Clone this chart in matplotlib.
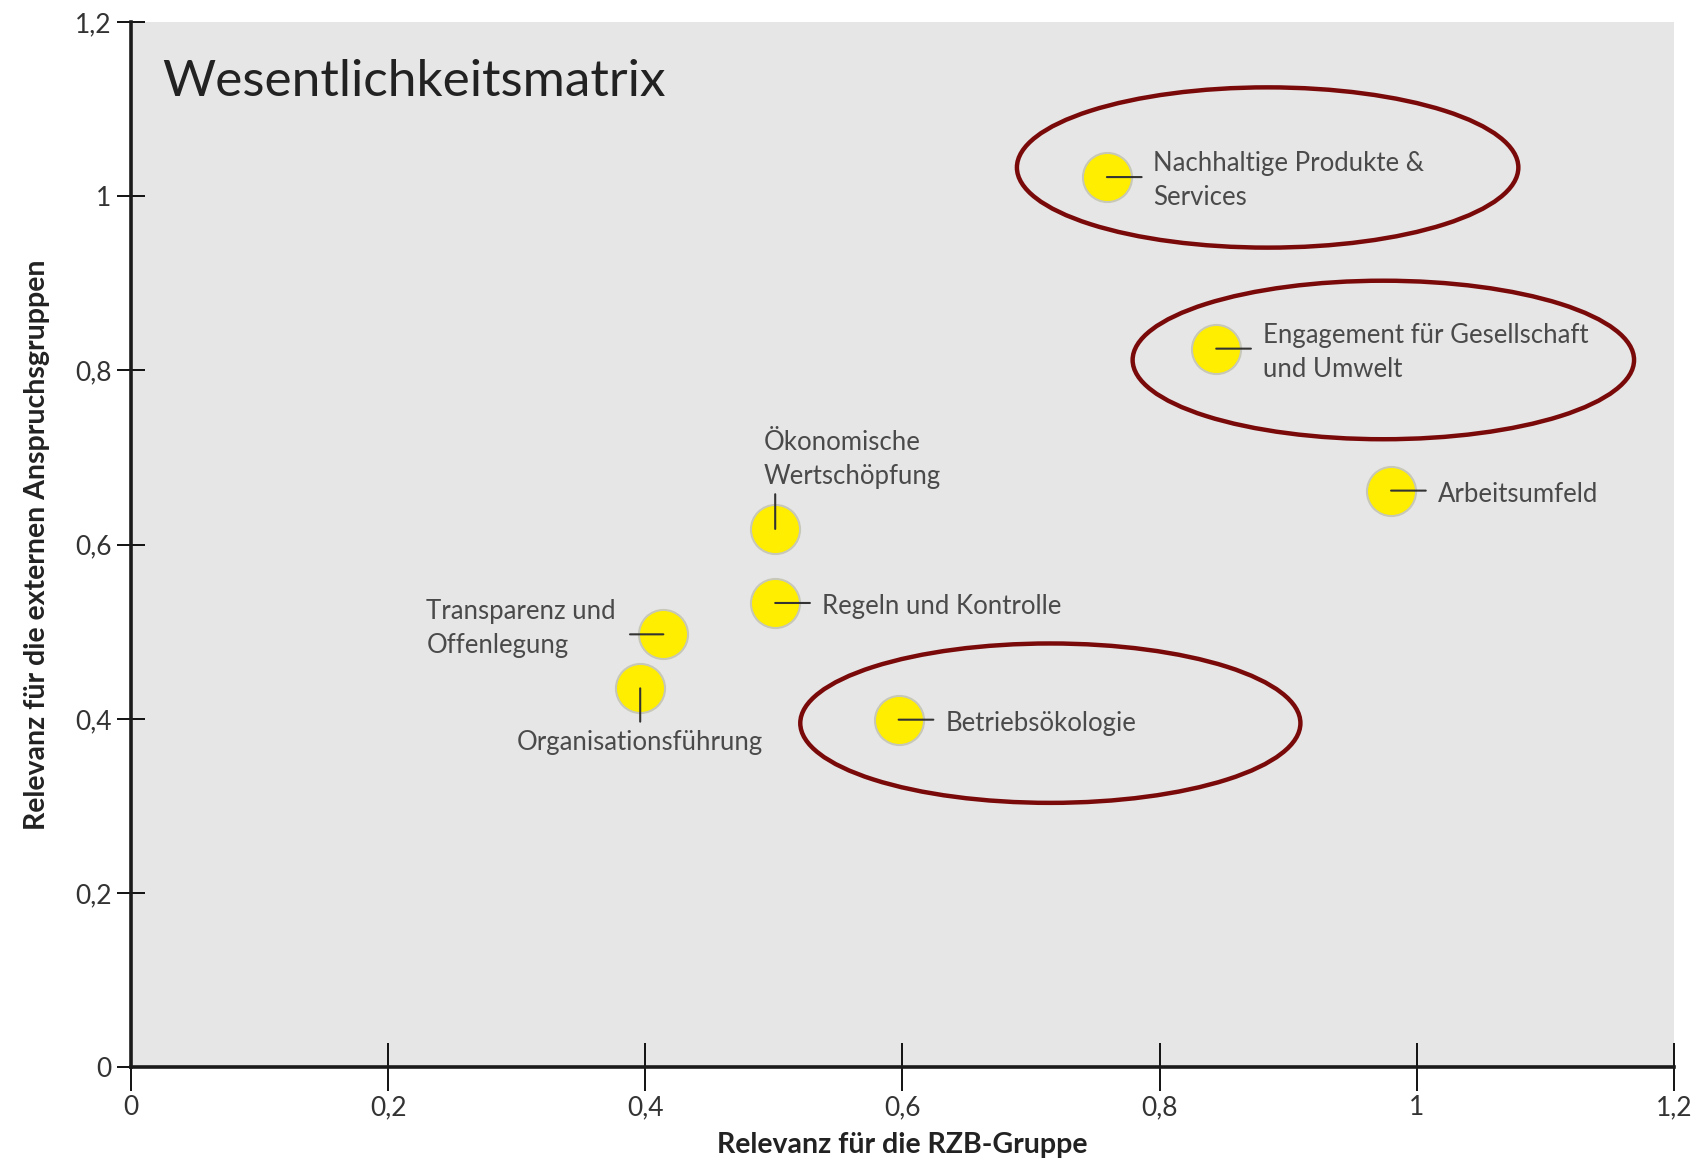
import matplotlib.pyplot as plt
from matplotlib.patches import Ellipse

# topics: relevance for the RZB group (x) and for external stakeholders (y)
topics = ['Nachhaltige Produkte &\nServices', 'Engagement für Gesellschaft\nund Umwelt',
          'Arbeitsumfeld', 'Ökonomische\nWertschöpfung', 'Regeln und Kontrolle',
          'Transparenz und\nOffenlegung', 'Organisationsführung', 'Betriebsökologie']
rzb_relevance = [0.759, 0.844, 0.980, 0.501, 0.501, 0.414, 0.396, 0.597]
ext_relevance = [1.022, 0.825, 0.662, 0.618, 0.533, 0.497, 0.435, 0.399]
# which side the label sits on
label_side = ['right', 'right', 'right', 'top', 'right', 'left', 'bottom', 'right']

# highlighted groups (center x, center y, width, height in data units)
ell_x = [0.884, 0.974, 0.715]
ell_y = [1.033, 0.812, 0.395]
ell_w = [0.390, 0.390, 0.389]
ell_h = [0.184, 0.182, 0.183]

ticks = [0, 0.2, 0.4, 0.6, 0.8, 1.0, 1.2]
tick_labels = ['0', '0,2', '0,4', '0,6', '0,8', '1', '1,2']

plt.rcParams['font.family'] = ['Lato', 'DejaVu Sans']

fig = plt.figure(figsize=(17.02, 11.6), dpi=100)
ax = fig.add_axes([0.077, 0.080, 0.9065, 0.901])
ax.set_facecolor('#e6e6e6')
ax.set_xlim(0, 1.2)
ax.set_ylim(0, 1.2)

for cx, cy, w, h in zip(ell_x, ell_y, ell_w, ell_h):
    ax.add_patch(Ellipse((cx, cy), w, h, fill=False, edgecolor='#7a0a0a', lw=3.2, zorder=2))

ax.scatter(rzb_relevance, ext_relevance, s=1250, color='#ffee00', edgecolors='#c8c8b8',
           linewidths=1.5, zorder=3)

txt_col = '#4a4a4a'
for name, x, y, side in zip(topics, rzb_relevance, ext_relevance, label_side):
    if side == 'right':
        line_end, txt_pos, ha, va = (25, 0), (33.5, -2.5), 'left', 'center'
    elif side == 'left':
        line_end, txt_pos, ha, va = (-24, 0), (-34, 4), 'right', 'center'
    elif side == 'top':
        line_end, txt_pos, ha, va = (0, 25), (-8.6, 29), 'left', 'bottom'
    else:
        line_end, txt_pos, ha, va = (0, -24), (0, -30), 'center', 'top'
    ax.annotate('', xy=(x, y), xytext=line_end, textcoords='offset points',
                arrowprops=dict(arrowstyle='-', color='#333333', lw=1.5,
                                shrinkA=0, shrinkB=0), zorder=4)
    ax.annotate(name, xy=(x, y), xytext=txt_pos, textcoords='offset points',
                ha=ha, va=va, multialignment='left', fontsize=18.5, color=txt_col,
                linespacing=1.45, zorder=4)

ax.text(0.020, 0.943, 'Wesentlichkeitsmatrix', transform=ax.transAxes,
        fontsize=37, color='#222222', va='center', ha='left')

ax.set_xticks(ticks, tick_labels)
ax.set_yticks(ticks, tick_labels)
ax.tick_params(axis='x', direction='inout', length=34, width=1.3, labelsize=19,
               labelcolor='#333333', pad=3)
ax.tick_params(axis='y', direction='inout', length=20, width=1.3, labelsize=19,
               labelcolor='#333333', pad=4)
for s in ['top', 'right']:
    ax.spines[s].set_visible(False)
for s in ['left', 'bottom']:
    ax.spines[s].set_linewidth(2.6)
    ax.spines[s].set_color('#1a1a1a')

ax.set_xlabel('Relevanz für die RZB-Gruppe', fontsize=20.5, fontweight='bold',
              color='#222222', labelpad=9)
ax.set_ylabel('Relevanz für die externen Anspruchsgruppen', fontsize=20.5,
              fontweight='bold', color='#222222', labelpad=18)

fig.savefig('out.png', dpi=100)
